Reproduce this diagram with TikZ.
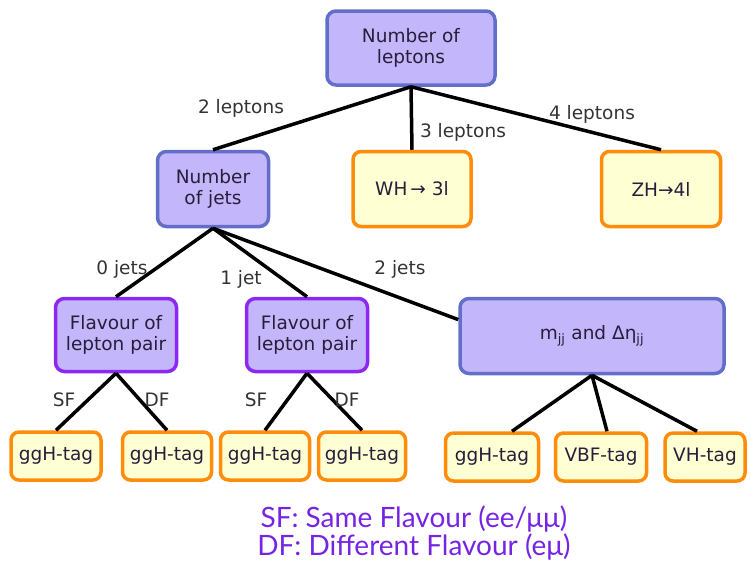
\documentclass[tikz,border=0pt]{standalone}
\usepackage{fontspec}
\setmainfont{DejaVu Sans}
\newfontfamily\legendfont{Lato}
\definecolor{lavender}{RGB}{196,182,250}
\definecolor{blueline}{RGB}{98,110,200}
\definecolor{violetline}{RGB}{140,40,240}
\definecolor{orangeline}{RGB}{255,140,10}
\definecolor{paleyellow}{RGB}{255,255,212}
\definecolor{legendpurple}{RGB}{118,36,228}
\definecolor{textdark}{RGB}{40,30,60}
\tikzset{
  decision/.style={draw=blueline, fill=lavender, line width=3.5pt, rounded corners=9pt,
    align=center, text=textdark, font=\fontsize{18.5}{21}\selectfont, inner sep=2pt},
  flavour/.style={decision, draw=violetline},
  outcome/.style={draw=orangeline, fill=paleyellow, line width=3.5pt, rounded corners=8pt,
    align=center, text=textdark, font=\fontsize{18.5}{21}\selectfont, inner sep=2pt},
  branch/.style={font=\fontsize{18.5}{21}\selectfont, text=black!80},
  link/.style={line width=3.5pt}
}
\begin{document}
\begin{tikzpicture}[x=1pt, y=-1pt]
\useasboundingbox (0,0) rectangle (751,560);

\node(lep) [decision, minimum width=168pt, minimum height=74pt] at (411,48) {Number of\\leptons};
\node(jets) [decision, minimum width=111pt, minimum height=75pt] at (213,189) {Number\\of jets};
\node(wh) [outcome, minimum width=118pt, minimum height=75pt] at (412,189) {WH\,→ 3l};
\node(zh) [outcome, minimum width=119pt, minimum height=75pt] at (661,189) {ZH→4l};

\node(flavA) [flavour, minimum width=121pt, minimum height=73pt] at (116,335) {Flavour of\\lepton pair};
\node(flavB) [flavour, minimum width=121pt, minimum height=73pt] at (307,335) {Flavour of\\lepton pair};
\node(mjj) [decision, minimum width=264pt, minimum height=75pt] at (592,336) {m\textsubscript{jj} and Δη\textsubscript{jj}};

\node(tagA) [outcome, minimum width=90pt, minimum height=48pt] at (56,456) {ggH-tag};
\node(tagB) [outcome, minimum width=89pt, minimum height=48pt] at (167,456) {ggH-tag};
\node(tagC) [outcome, minimum width=89pt, minimum height=48pt] at (265,456) {ggH-tag};
\node(tagD) [outcome, minimum width=87pt, minimum height=48pt] at (362,456) {ggH-tag};
\node(tagE) [outcome, minimum width=93pt, minimum height=48pt] at (492,457) {ggH-tag};
\node(tagF) [outcome, minimum width=91pt, minimum height=48pt] at (601,457) {VBF-tag};
\node(tagG) [outcome, minimum width=80pt, minimum height=48pt] at (705,457) {VH-tag};

\draw[link](lep.south) -- (jets.north);
\draw[link](lep.south) -- (wh.north);
\draw[link](lep.south) -- (zh.north);
\draw[link](jets.south) -- (flavA.north);
\draw[link](jets.south) -- (flavB.north);
\draw[link](jets.south) -- (mjj.173);
\draw[link](flavA.south) -- (tagA.north);
\draw[link](flavA.south) -- (tagB.north);
\draw[link](flavB.south) -- (tagC.north);
\draw[link](flavB.south) -- (tagD.north);
\draw[link](mjj.south) -- ([xshift=20pt]tagE.north);
\draw[link](mjj.south) -- ([xshift=6pt]tagF.north);
\draw[link](mjj.south) -- ([xshift=-8pt]tagG.north);

\node(twolep) [branch] at (241,108) {2 leptons};
\node(threelep) [branch] at (463,132) {3 leptons};
\node(fourlep) [branch] at (592,114) {4 leptons};
\node(zerojet) [branch] at (122,269) {0 jets};
\node(onejet) [branch] at (241,279) {1 jet};
\node(twojet) [branch] at (400,269) {2 jets};
\node(sfA) [branch] at (64,400) {SF};
\node(dfA) [branch] at (157,400) {DF};
\node(sfB) [branch] at (256,400) {SF};
\node(dfB) [branch] at (347,400) {DF};

\node(legend) [align=center, text=legendpurple, font=\legendfont\fontsize{28}{28}\selectfont, inner sep=0pt] at (414,533)
  {SF: Same Flavour (ee/μμ)\\DF: Different Flavour (eμ)};
\end{tikzpicture}
\end{document}
